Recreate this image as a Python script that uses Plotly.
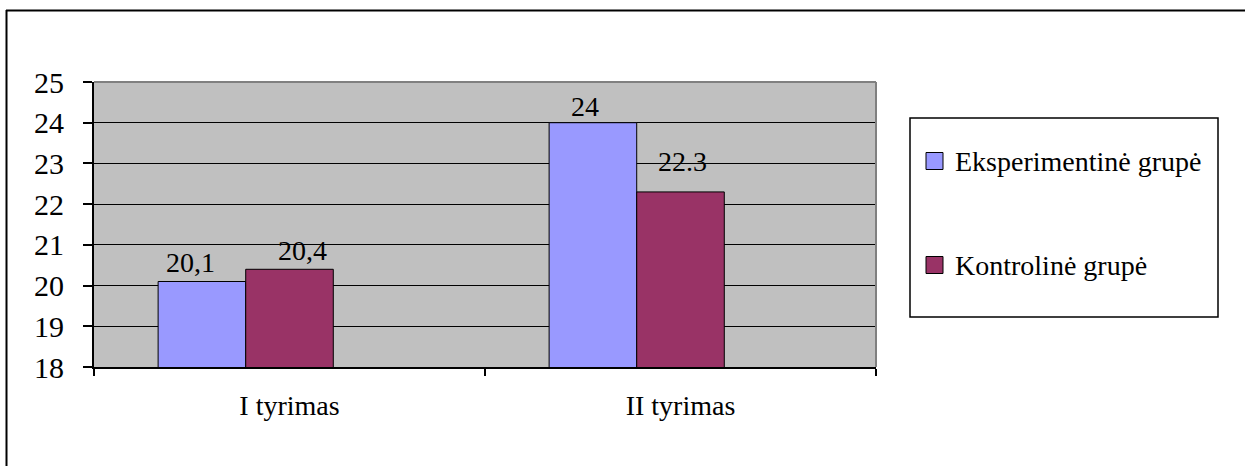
import plotly.graph_objects as go

# Data
categories = ["I tyrimas", "II tyrimas"]
series_names = ["Eksperimentinė grupė", "Kontrolinė grupė"]
eksperimentine = [20.1, 24.0]
kontroline = [20.4, 22.3]
value_labels = [["20,1", "24"], ["20,4", "22.3"]]
y_ticks = [18, 19, 20, 21, 22, 23, 24, 25]

# Styling
COLORS = ["#9999FF", "#993366"]
FONT = "'Liberation Serif', 'Times New Roman', Times, serif"
FS = 28
W, H = 1245, 466
ML, MR, MT, MB = 94, W - 876, 82, H - 367
PW, PH = W - ML - MR, H - MT - MB

BAR_W = 0.224
BAR_OFFSETS = [-0.336, -0.112]
# pixel nudges for value labels (x, y) per series / category
LABEL_SHIFTS = [[(-99, 19), (-96, 16)], [(13, 19), (2, 30)]]


def px(xp):
    return (xp - ML) / PW


def py(yp):
    return (MT + PH - yp) / PH


fig = go.Figure()
for i, vals in enumerate([eksperimentine, kontroline]):
    fig.add_trace(go.Bar(
        x=categories, y=vals, name=series_names[i],
        width=BAR_W, offset=BAR_OFFSETS[i],
        marker=dict(color=COLORS[i], line=dict(color="black", width=1)),
        showlegend=False, hoverinfo="skip",
    ))

annotations = []
for i, vals in enumerate([eksperimentine, kontroline]):
    for j, v in enumerate(vals):
        dx, dy = LABEL_SHIFTS[i][j]
        annotations.append(dict(
            x=categories[j], y=v, xref="x", yref="y", text=value_labels[i][j],
            showarrow=False, xanchor="center", yanchor="middle",
            xshift=dx, yshift=dy, font=dict(family=FONT, size=FS, color="black"),
        ))

# Legend drawn as a framed box with swatches
shapes = []
LEG_BOX = (910, 118, 1218, 317)
shapes.append(dict(type="rect", xref="paper", yref="paper",
                   x0=px(LEG_BOX[0]), x1=px(LEG_BOX[2]),
                   y0=py(LEG_BOX[3]), y1=py(LEG_BOX[1]),
                   line=dict(color="black", width=1.5), fillcolor="white", layer="above"))
legend_rows = [161, 265]
for i, name in enumerate(series_names):
    cy = legend_rows[i]
    shapes.append(dict(type="rect", xref="paper", yref="paper",
                       x0=px(926), x1=px(943), y0=py(cy + 8.5), y1=py(cy - 8.5),
                       line=dict(color="black", width=1), fillcolor=COLORS[i], layer="above"))
    annotations.append(dict(x=px(953), y=py(cy), xref="paper", yref="paper",
                            text=name, showarrow=False, xanchor="left", yanchor="middle",
                            font=dict(family=FONT, size=FS, color="black")))

# Grey frame on the top and right of the plot area
shapes.append(dict(type="line", xref="paper", yref="paper", x0=0, x1=1, y0=1, y1=1,
                   line=dict(color="#808080", width=2), layer="above"))
shapes.append(dict(type="line", xref="paper", yref="paper", x0=1, x1=1, y0=0, y1=1,
                   line=dict(color="#808080", width=2), layer="above"))

# Outer chart border (top and left)
shapes.append(dict(type="line", xref="paper", yref="paper",
                   x0=px(6), x1=px(W + 5), y0=py(10.5), y1=py(10.5),
                   line=dict(color="black", width=2), layer="above"))
shapes.append(dict(type="line", xref="paper", yref="paper",
                   x0=px(6.5), x1=px(6.5), y0=py(10), y1=py(H + 5),
                   line=dict(color="black", width=2), layer="above"))

fig.update_layout(
    width=W, height=H,
    margin=dict(l=ML, r=MR, t=MT, b=MB, pad=0),
    paper_bgcolor="white", plot_bgcolor="#C0C0C0",
    font=dict(family=FONT, size=FS, color="black"),
    showlegend=False, barmode="overlay",
    annotations=annotations, shapes=shapes,
    xaxis=dict(type="category", range=[-0.5, 1.5], showgrid=False,
               ticks="outside", tickson="boundaries", ticklen=7, tickwidth=2, tickcolor="black",
               showline=True, linecolor="black", linewidth=2,
               tickfont=dict(family=FONT, size=FS, color="black"), ticklabelstandoff=12),
    yaxis=dict(range=[18, 25], tickvals=y_ticks, ticktext=[str(t) for t in y_ticks],
               showgrid=True, gridcolor="black", gridwidth=1, zeroline=False,
               ticks="outside", ticklen=9, tickwidth=2, tickcolor="black",
               showline=True, linecolor="black", linewidth=2,
               tickfont=dict(family=FONT, size=30, color="black"), ticklabelstandoff=13),
)

fig.write_html("out.html")
